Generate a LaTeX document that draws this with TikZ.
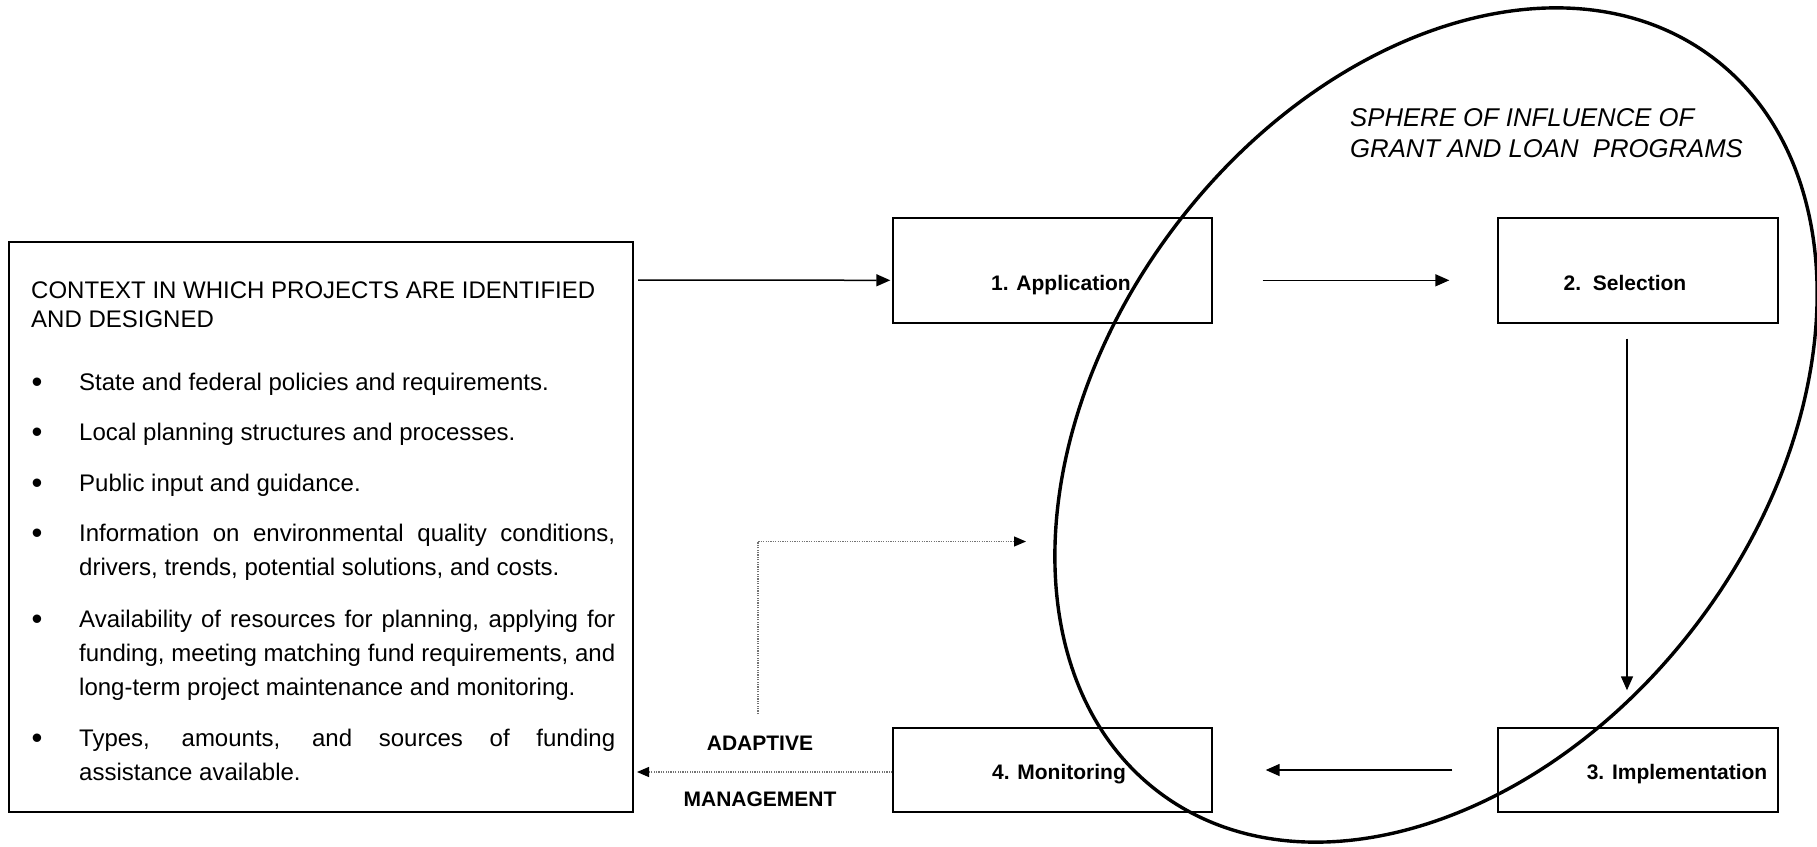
\documentclass[tikz,border=0pt]{standalone}
\usepackage{fontspec}
\setmainfont{Liberation Sans}
\usetikzlibrary{arrows.meta}
\begin{document}
\begin{tikzpicture}[x=1pt,y=1pt,
  stepbox/.style={draw, line width=1.4pt, inner sep=0pt},
  lbl/.style={font=\fontsize{21}{25}\selectfont\bfseries, inner sep=0pt, anchor=base},
  arr/.style={line width=1.5pt, -{Triangle[length=14pt,width=12pt]}},
  dotarr/.style={line width=1.2pt, black!55, dash pattern=on 1.2pt off 1.2pt, -{Triangle[length=12pt,width=10pt,color=black]}},
  ln/.style={font=\fontsize{24}{34}\selectfont, inner sep=0pt, anchor=base west},
  bul/.style={font=\fontsize{31}{34}\selectfont, inner sep=0pt, anchor=base, yshift=-2pt},
  sph/.style={font=\fontsize{25.7}{30}\selectfont\itshape, inner sep=0pt, anchor=base west},
]
\useasboundingbox (0,0) rectangle (1817,-846);
\fill[white] (0,0) rectangle (1817,-846);

% context box
\node[draw, line width=2pt, minimum width=624pt, minimum height=570pt, inner sep=0pt] (ctx) at (321,-527) {};
\node[ln] (h1) at (31,-298.5) {CONTEXT IN WHICH PROJECTS ARE IDENTIFIED};
\node[ln] (h2) at (31,-327) {AND DESIGNED};

\node[bul] (b1) at (37,-390.5) {•};
\node[ln] (l1) at (79,-390.5) {State and federal policies and requirements.};
\node[bul] (b2) at (37,-440) {•};
\node[ln] (l2) at (79,-440) {Local planning structures and processes.};
\node[bul] (b3) at (37,-491.5) {•};
\node[ln] (l3) at (79,-491.5) {Public input and guidance.};
\node[bul] (b4) at (37,-541.5) {•};
\node[ln] (l4a) at (79,-541.5) {\makebox[536pt][s]{Information on environmental quality conditions,}};
\node[ln] (l4b) at (79,-575) {drivers, trends, potential solutions, and costs.};
\node[bul] (b5) at (37,-627) {•};
\node[ln] (l5a) at (79,-627) {\makebox[536pt][s]{Availability of resources for planning, applying for}};
\node[ln] (l5b) at (79,-661) {\makebox[536pt][s]{funding, meeting matching fund requirements, and}};
\node[ln] (l5c) at (79,-695) {long-term project maintenance and monitoring.};
\node[bul] (b6) at (37,-746) {•};
\node[ln] (l6a) at (79,-746) {\makebox[536pt][s]{Types, amounts, and sources of funding}};
\node[ln] (l6b) at (79,-780) {assistance available.};

% process boxes
\node[stepbox, minimum width=319pt, minimum height=105pt] (app) at (1052.5,-270.5) {};
\node[stepbox, minimum width=280pt, minimum height=105pt] (sel) at (1638,-270.5) {};
\node[stepbox, minimum width=280pt, minimum height=84pt] (imp) at (1638,-770) {};
\node[stepbox, minimum width=319pt, minimum height=84pt] (mon) at (1052.5,-770) {};

\node[lbl] (appt) at (1061,-290.5) {1. Application};
\node[lbl] (selt) at (1625,-290.5) {2.\ \ Selection};
\node[lbl] (impt) at (1677,-779.5) {3. Implementation};
\node[lbl] (mont) at (1059,-779.5) {4. Monitoring};

% solid arrows
\draw[arr] ([shift={(4,-39)}]ctx.north east) -- ([shift={(-2,-63)}]app.north west);
\draw[arr] ([shift={(50,-63)}]app.north east) -- ([shift={(-48,-63)}]sel.north west);
\draw[arr] ([shift={(-11,-15)}]sel.south) -- ([shift={(-11,37)}]imp.north);
\draw[arr] ([shift={(-45,0)}]imp.west) -- ([shift={(53,0)}]mon.east);

% adaptive management
\node[lbl] (ad) at (760,-750) {ADAPTIVE};
\node[lbl] (mg) at (760,-806) {MANAGEMENT};
\coordinate (mw) at ([yshift=-2pt]mon.west);
\coordinate (ce) at ([xshift=3pt]ctx.east);
\draw[dotarr] (mw) -- (ce |- mw);
\coordinate (fbs) at (758,-714);
\coordinate (fbe) at (1026,-541.5);
\draw[dotarr] (fbs) |- (fbe);

% sphere of influence
\draw[line width=3.4pt, rotate around={53:(1436,-425)}] (1436,-425) ellipse (460 and 328);
\node[sph] (s1) at (1350,-126) {SPHERE OF INFLUENCE OF};
\node[sph] (s2) at (1350,-157) {GRANT AND LOAN\ \ PROGRAMS};
\end{tikzpicture}
\end{document}
